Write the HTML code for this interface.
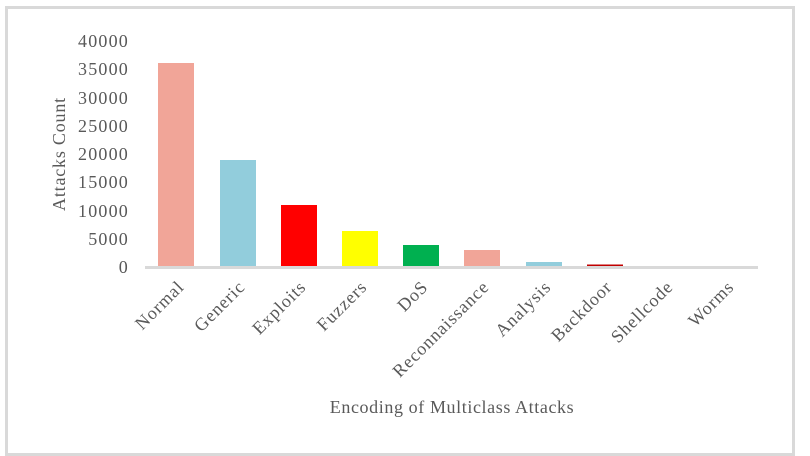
<!DOCTYPE html>
<html><head><style>body{margin:0;background:#fff}svg{display:block}text{font-family:"Liberation Serif",serif;fill:#595959}</style></head>
<body>
<svg width="810" height="456" viewBox="0 0 810 456">
<rect x="6.5" y="7.5" width="787" height="447" fill="#fff" stroke="#d9d9d9" stroke-width="3"/>
<g font-size="18" text-anchor="end" letter-spacing="1.2">
<text x="129" y="47">40000</text>
<text x="129" y="75">35000</text>
<text x="129" y="104">30000</text>
<text x="129" y="132">25000</text>
<text x="129" y="160">20000</text>
<text x="129" y="188">15000</text>
<text x="129" y="217">10000</text>
<text x="129" y="245">5000</text>
<text x="129" y="273">0</text>
</g>
<text transform="translate(65,154) rotate(-90)" font-size="18" letter-spacing="0.8" text-anchor="middle">Attacks Count</text>
<rect x="158" y="63" width="36" height="204" fill="#f1a598"/>
<rect x="220" y="160" width="36" height="107" fill="#92cddc"/>
<rect x="281" y="205" width="36" height="62" fill="#ff0000"/>
<rect x="342" y="231" width="36" height="36" fill="#ffff00"/>
<rect x="403" y="245" width="36" height="22" fill="#00b050"/>
<rect x="464" y="250" width="36" height="17" fill="#f1a598"/>
<rect x="526" y="262" width="36" height="5" fill="#92cddc"/>
<rect x="587" y="264.5" width="36" height="2" fill="#c00000"/>
<rect x="145" y="266" width="613" height="3" fill="#d9d9d9"/>
<g font-size="18" text-anchor="end" letter-spacing="0.9">
<text transform="translate(185,288) rotate(-45)">Normal</text>
<text transform="translate(246,288) rotate(-45)">Generic</text>
<text transform="translate(307,288) rotate(-45)">Exploits</text>
<text transform="translate(368,288) rotate(-45)">Fuzzers</text>
<text transform="translate(429,288) rotate(-45)">DoS</text>
<text transform="translate(490,288) rotate(-45)">Reconnaissance</text>
<text transform="translate(552,288) rotate(-45)">Analysis</text>
<text transform="translate(613,288) rotate(-45)">Backdoor</text>
<text transform="translate(674,288) rotate(-45)">Shellcode</text>
<text transform="translate(735,288) rotate(-45)">Worms</text>
</g>
<text x="452" y="413" font-size="18" letter-spacing="0.6" text-anchor="middle">Encoding of Multiclass Attacks</text>
</svg>
</body></html>
